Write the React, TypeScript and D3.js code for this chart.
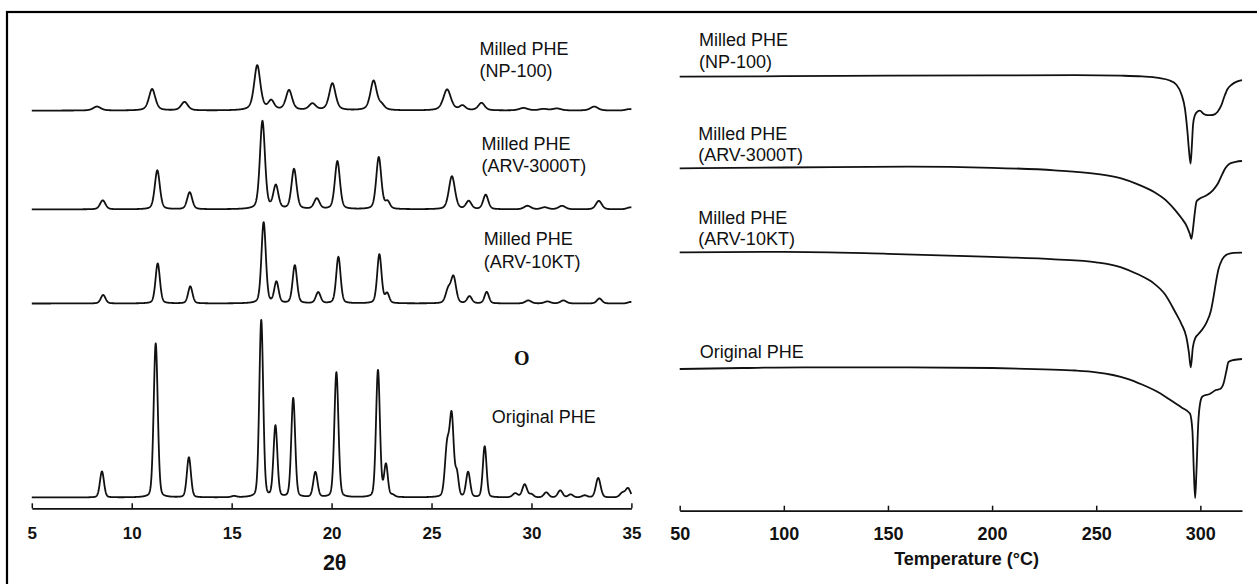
import React, { useEffect, useRef } from "react";
import * as d3 from "d3";

// XRD peaks: [2θ, height, FWHM]
const xrdNP100 = [
  [8.26, 4, 0.45], [11.02, 21.5, 0.38], [12.64, 8.5, 0.4], [16.28, 45, 0.37],
  [16.98, 9, 0.35], [17.87, 20, 0.37], [19.04, 6.5, 0.4], [20.04, 27, 0.38],
  [22.1, 29.5, 0.38], [22.5, 4.5, 0.35], [25.78, 21, 0.45], [26.55, 4.5, 0.35],
  [27.5, 7.5, 0.38], [29.6, 2.5, 0.5], [30.6, 1.5, 0.5], [31.27, 2, 0.5],
  [33.14, 4, 0.45], [34.9, 1.5, 0.4],
];
const xrdARV3000T = [
  [8.55, 9, 0.32], [11.28, 39, 0.3], [12.9, 17, 0.3], [16.54, 88, 0.3],
  [17.21, 23, 0.3], [18.12, 40, 0.3], [19.26, 10.5, 0.32], [20.29, 48, 0.3],
  [22.36, 52, 0.3], [22.8, 7, 0.28], [26.02, 33, 0.36], [26.86, 8, 0.32],
  [27.71, 14.5, 0.3], [29.8, 3.5, 0.4], [30.66, 2, 0.4], [31.53, 3.5, 0.4],
  [33.37, 8.5, 0.35], [34.95, 2, 0.4],
];
const xrdARV10KT = [
  [8.57, 8.5, 0.28], [11.3, 40, 0.26], [12.93, 17, 0.26], [16.6, 81, 0.26],
  [17.24, 21, 0.26], [18.16, 38, 0.26], [19.33, 11, 0.28], [20.34, 46.5, 0.26],
  [22.39, 49, 0.26], [22.78, 9.5, 0.24], [25.83, 13, 0.3], [26.1, 26, 0.3],
  [26.9, 7, 0.28], [27.76, 11.5, 0.26], [29.84, 3, 0.35], [30.8, 2, 0.35],
  [31.6, 3, 0.35], [33.4, 5, 0.3], [34.95, 1.5, 0.3],
];
const xrdOriginal = [
  [8.51, 26, 0.24], [11.2, 154, 0.24], [12.86, 40, 0.24], [15.12, 1.2, 0.3],
  [16.48, 177, 0.23], [17.19, 71, 0.23], [18.08, 99, 0.23], [19.19, 25, 0.25],
  [20.24, 125, 0.24], [22.32, 127, 0.23], [22.72, 32, 0.22], [23.05, 2, 0.25],
  [25.78, 50, 0.26], [26.01, 78, 0.24], [26.27, 22, 0.2], [26.83, 25, 0.24],
  [27.66, 51, 0.22], [29.19, 4, 0.3], [29.66, 13, 0.28], [30.0, 3, 0.25],
  [30.74, 5, 0.28], [31.44, 7, 0.28], [31.96, 3, 0.28], [32.66, 2, 0.3],
  [33.34, 19.5, 0.28], [34.55, 4.5, 0.3], [34.83, 9, 0.28],
];

// DSC traces: [T (°C), heat flow rel. to start]
const dscNP100 = [
  [50, 0], [100, 0.5], [150, 1], [200, 1.3], [240, 1.5], [262, 1], [272, 0.3],
  [280, -1.2], [285, -3.5], [288.5, -8], [291, -18], [292.6, -32], [293.8, -55],
  [294.6, -75], [295.3, -87], [295.9, -70], [296.5, -48], [297.3, -39],
  [298.5, -35], [299.8, -34], [301.5, -37], [303.5, -38.5], [306, -38.3],
  [308.3, -35], [310, -29], [311.5, -20], [313, -12.5], [315, -8], [317.5, -5],
  [320, -3.5],
];
const dscARV3000T = [
  [50, 0], [100, 0.8], [160, 1.6], [200, 0.5], [230, -2], [250, -5.5],
  [262, -10], [270, -16], [278, -24], [284, -33], [288, -42], [291, -50],
  [293.5, -58], [295, -66], [295.7, -70.5], [296.5, -60], [297.3, -45],
  [298.2, -33], [300, -30], [303, -27], [306, -22], [308.5, -15], [310.5, -6],
  [312, 0], [314, 4.5], [317, 6.5], [320, 7.3],
];
const dscARV10KT = [
  [50, 0], [100, 0.5], [150, -1.5], [200, -4.5], [230, -7], [250, -10],
  [262, -15], [270, -22], [277, -30], [283, -42], [288, -60], [291, -72],
  [293.3, -85], [294.5, -100], [295.4, -115], [296.4, -95], [297.5, -86],
  [299, -82], [301, -77], [303, -70], [305, -59], [306.3, -45], [307.4, -31],
  [308.7, -17], [310.5, -7], [313, -2], [316, -0.5], [320, -0.4],
];
const dscOriginal = [
  [50, 0], [80, 1], [110, 1.7], [160, 1.7], [200, 1], [225, -0.3], [240, -1.5],
  [250, -3.3], [258, -6], [265, -9.8], [272, -15.5], [280, -23.5], [286, -31.5],
  [291, -38.5], [295, -44.5], [296.2, -62], [296.9, -104], [297.5, -129],
  [298.1, -104], [299, -54], [300, -33], [301, -27.5], [304.5, -25], [307.5, -21],
  [309.5, -20], [311.2, -14], [312.5, -2], [313.5, 7], [316, 9], [320, 10],
];

const xrdTicks = [5, 10, 15, 20, 25, 30, 35];
const dscTicks = [50, 100, 150, 200, 250, 300];

const FONT = "'Liberation Sans', Arial, Helvetica, sans-serif";

const xX = d3.scaleLinear().domain([5, 35]).range([31.8, 631.4]);
const yX = d3.scaleLinear().domain([0, 500]).range([508.3, 8.3]);
const xD = d3.scaleLinear().domain([50, 320]).range([679.7, 1242]);
const yD = d3.scaleLinear().domain([0, 500]).range([510.7, 10.7]);

const grid = d3.range(5, 35.0001, 0.01);
const profile = (peaks, eta) =>
  grid.map((t) => [
    t,
    d3.sum(peaks, ([c, h, w]) => {
      const u = (t - c) / w;
      return h * (eta / (1 + 4 * u * u) + (1 - eta) * Math.exp(-4 * Math.LN2 * u * u));
    }),
  ]);

const xrdSeries = [
  { peaks: xrdNP100, eta: 0.5, offset: 397.7 },
  { peaks: xrdARV3000T, eta: 0.35, offset: 298.9 },
  { peaks: xrdARV10KT, eta: 0.3, offset: 204.8 },
  { peaks: xrdOriginal, eta: 0.2, offset: 10.8 },
];
const dscSeries = [
  { data: dscNP100, offset: 434 },
  { data: dscARV3000T, offset: 342.4 },
  { data: dscARV10KT, offset: 258.4 },
  { data: dscOriginal, offset: 141.7 },
];

const App = () => {
  const axX = useRef(null);
  const axD = useRef(null);

  useEffect(() => {
    const style = (g, size) => {
      g.attr("font-family", FONT);
      g.select(".domain").attr("stroke", "#111").attr("stroke-width", 1.7);
      g.selectAll(".tick line").attr("stroke", "#111").attr("stroke-width", 1.5);
      g.selectAll(".tick text")
        .attr("font-size", size)
        .attr("font-weight", "bold")
        .attr("fill", "#111");
    };
    d3.select(axX.current)
      .call(d3.axisBottom(xX).tickValues(xrdTicks).tickSize(-5).tickSizeOuter(0).tickPadding(18.3))
      .call((g) => style(g, 17));
    d3.select(axD.current)
      .call(d3.axisBottom(xD).tickValues(dscTicks).tickSize(-5).tickSizeOuter(0).tickPadding(16.3))
      .call((g) => style(g, 18));
  }, []);

  const xrdLine = d3.line().x((d) => xX(d[0])).y((d) => yX(d[1]));
  const dscLine = d3.line().x((d) => xD(d[0])).y((d) => yD(d[1])).curve(d3.curveMonotoneX);

  const label = (x, y, text, size = 18) => (
    <text x={x} y={y} fontFamily={FONT} fontSize={size} fill="#111">
      {text}
    </text>
  );

  return (
    <svg
      width={1257}
      height={584}
      style={{ position: "absolute", left: 0, top: 0, background: "#fff" }}
    >
      <rect x={7} y={12} width={1270} height={600} fill="none" stroke="#000" strokeWidth={2.2} />

      {xrdSeries.map((s, i) => (
        <path
          key={"x" + i}
          d={xrdLine(profile(s.peaks, s.eta).map(([t, v]) => [t, v + s.offset]))}
          fill="none"
          stroke="#111"
          strokeWidth={1.8}
          strokeLinejoin="round"
        />
      ))}
      {dscSeries.map((s, i) => (
        <path
          key={"d" + i}
          d={dscLine(s.data.map(([t, v]) => [t, v + s.offset]))}
          fill="none"
          stroke="#111"
          strokeWidth={1.8}
          strokeLinejoin="round"
        />
      ))}

      <g ref={axX} transform="translate(0,508.3)" />
      <g ref={axD} transform="translate(0,510.7)" />

      {label(479.6, 55.3, "Milled PHE")}
      {label(479.6, 76.7, "(NP-100)")}
      {label(481.6, 150.3, "Milled PHE")}
      {label(481.6, 171.7, "(ARV-3000T)")}
      {label(483.7, 245.3, "Milled PHE")}
      {label(483.7, 267.7, "(ARV-10KT)")}
      {label(491.8, 422.7, "Original PHE")}
      <text
        x={521.7}
        y={365}
        textAnchor="middle"
        fontFamily="'Liberation Serif', 'Times New Roman', serif"
        fontWeight="bold"
        fontSize={20}
        fill="#111"
      >
        O
      </text>

      {label(699, 46, "Milled PHE")}
      {label(699, 67.7, "(NP-100)")}
      {label(698.2, 140.3, "Milled PHE")}
      {label(698.2, 161, "(ARV-3000T)")}
      {label(698.2, 224.3, "Milled PHE")}
      {label(698.2, 245.3, "(ARV-10KT)")}
      {label(699.8, 357.7, "Original PHE")}

      <text x={334.7} y={569.5} textAnchor="middle" fontFamily={FONT} fontWeight="bold" fontSize={21.5} fill="#111">
        2θ
      </text>
      <text x={966.6} y={565} textAnchor="middle" fontFamily={FONT} fontWeight="bold" fontSize={18} fill="#111">
        Temperature (°C)
      </text>
    </svg>
  );
};

export default App;
